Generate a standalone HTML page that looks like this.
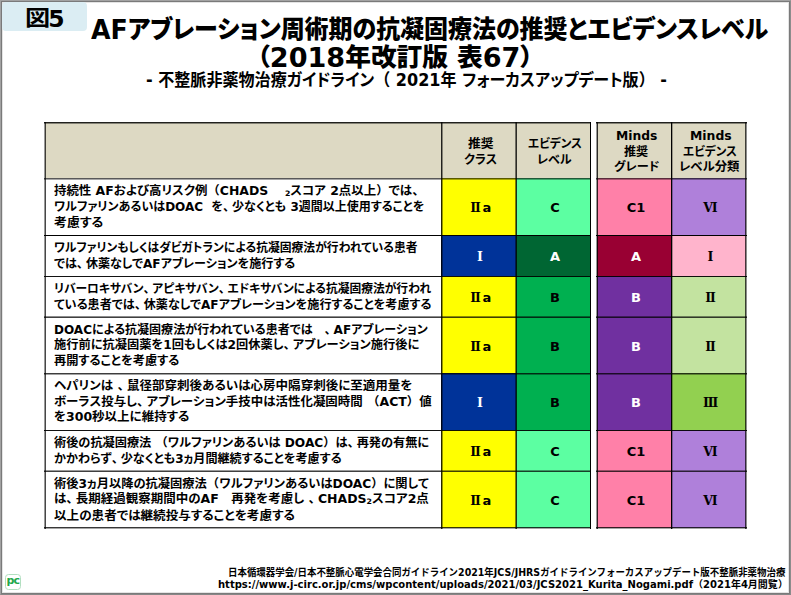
<!DOCTYPE html>
<html lang="ja">
<head>
<meta charset="utf-8">
<style>
html,body{margin:0;padding:0;background:#fff;}
body{width:791px;height:595px;overflow:hidden;position:relative;
  font-family:"DejaVu Sans","Noto Sans CJK JP",sans-serif;font-weight:bold;color:#000;}
.frame{position:absolute;left:0;top:0;width:791px;height:595px;box-sizing:border-box;border:1px solid;border-color:#a2a2a2 #8c8c8c #878787 #a2a2a2;}
.frame div{position:absolute;left:0;top:0;right:0;bottom:0;border:1px solid #7a7a7a;}
.frame div div{border-color:#e4e4e4;}
.lbl{position:absolute;left:2px;top:2px;width:85px;height:28.6px;background:#dbedf3;border-radius:4px;}
.lbl span{position:absolute;white-space:nowrap;line-height:30px;}
.lbl .z{left:22.5px;top:0.8px;font-size:21px;transform:scaleX(1.2);transform-origin:0 0;}
.lbl .n{left:46.3px;top:1.5px;font-size:23.5px;}
.t{position:absolute;white-space:nowrap;font-feature-settings:"palt" 1;font-weight:900;}
.cell{position:absolute;box-sizing:border-box;display:flex;align-items:center;justify-content:center;text-align:center;}
.hd{background:#ddd9c3;}
.hx{position:absolute;font-size:12px;line-height:16px;white-space:nowrap;z-index:2;font-feature-settings:"palt" 1;transform-origin:0 0;}
.bt{position:absolute;box-sizing:border-box;display:flex;align-items:center;font-size:12px;line-height:15.5px;padding-left:9px;padding-top:2px;white-space:nowrap;font-feature-settings:"palt" 1;}
.ln{transform-origin:0 50%;width:max-content;}
.v{font-size:13px;font-family:"DejaVu Sans",sans-serif;padding-left:3px;padding-top:2px;}
.rn{font-family:"DejaVu Serif",serif;font-size:12.5px;}
.w{color:#fff;}
.hl{position:absolute;height:1px;}
.vl{position:absolute;width:1px;}
.foot{position:absolute;font-size:10px;line-height:11px;white-space:nowrap;font-weight:bold;}
.pc{position:absolute;left:5px;top:574px;width:16px;height:16px;box-sizing:border-box;border:1px solid #b2dfc0;border-radius:3.5px;}
.pc span{position:absolute;left:0.5px;top:-2px;font-family:"DejaVu Sans",sans-serif;font-weight:bold;font-size:11px;line-height:16px;color:#1fa84a;letter-spacing:-0.8px;}
.sb{font-size:7.5px;position:relative;top:1.2px;}
.fw{font-feature-settings:normal;}
.cm{letter-spacing:-3px;}
.la{font-size:26px;position:relative;top:1px;}
</style>
</head>
<body>
<div class="frame"><div><div></div></div></div>
<div class="lbl"><span class="z">図</span><span class="n">5</span></div>

<div class="t" id="t1" style="left:90.88px;top:12px;font-size:24.7px;line-height:34px;transform:scaleX(0.9706);transform-origin:0 0;"><span class="la">AF</span>アブレーション周術期の抗凝固療法の推奨とエビデンスレベル</div>
<div class="t" id="t2" style="left:256.73px;top:39.5px;font-size:24.7px;line-height:34px;transform:scaleX(1.0410);transform-origin:0 0;">（<span class="la">2018</span>年改訂版 表<span class="la">67</span>）</div>
<div class="t" id="t3" style="font-weight:700;left:145.57px;top:69px;font-size:17px;line-height:22px;transform:scaleX(0.9445);transform-origin:0 0;">- 不整脈非薬物治療ガイドライン<span class="fw">（</span> 2021年 フォーカスアップデート版<span class="fw">）</span> -</div>

<!-- header -->
<div class="cell hd" style="left:45px;top:122px;width:396px;height:56px;"></div>
<div class="cell hd" style="left:441px;top:122px;width:75px;height:56px;"></div>
<div class="cell hd" style="left:516px;top:122px;width:74px;height:56px;"></div>
<div class="cell hd" style="left:597px;top:122px;width:75px;height:56px;"></div>
<div class="cell hd" style="left:672px;top:122px;width:74px;height:56px;"></div>
<div class="hx" id="h1" style="left:467.60px;top:136.35px;transform:scaleX(1.0667);">推奨</div>
<div class="hx" id="h2" style="left:463.69px;top:152.00px;transform:scaleX(1.0097);">クラス</div>
<div class="hx" id="h3" style="left:527.83px;top:136.25px;transform:scaleX(0.9667);">エビデンス</div>
<div class="hx" id="h4" style="left:537.01px;top:151.75px;transform:scaleX(0.9969);">レベル</div>
<div class="hx" id="h5" style="left:615.55px;top:127.75px;transform:scaleX(0.9476);"><span style="font-size:13px">Minds</span></div>
<div class="hx" id="h6" style="left:624.00px;top:144.40px;transform:scaleX(1.0083);">推奨</div>
<div class="hx" id="h7" style="left:613.99px;top:158.80px;transform:scaleX(1.0140);">グレード</div>
<div class="hx" id="h8" style="left:689.95px;top:127.75px;transform:scaleX(0.9548);"><span style="font-size:13px">Minds</span></div>
<div class="hx" id="h9" style="left:683.23px;top:144.40px;transform:scaleX(0.9667);">エビデンス</div>
<div class="hx" id="h10" style="left:678.94px;top:158.80px;transform:scaleX(1.0304);">レベル分類</div>

<!-- rows -->
<div class="bt" style="left:45px;top:178px;width:396px;height:57px;"><div><div class="ln" style="transform:scaleX(1.0360)">持続性 AFおよび高リスク例<span class="fw">（</span>CHADS　 <span class="sb">2</span>スコア 2点以上<span class="fw">）</span>では<span class="fw cm">、</span></div><div class="ln" style="transform:scaleX(1.0005)">ワルファリンあるいはDOAC&nbsp; を<span class="fw cm">、</span>少なくとも 3週間以上使用することを</div><div class="ln" style="transform:scaleX(1.0773)">考慮する</div></div></div>
<div class="bt" style="left:45px;top:235px;width:396px;height:41px;"><div><div class="ln" style="transform:scaleX(0.9802)">ワルファリンもしくはダビガトランによる抗凝固療法が行われている患者</div><div class="ln" style="transform:scaleX(1.0055)">では<span class="fw cm">、</span>休薬なしでAFアブレーションを施行する</div></div></div>
<div class="bt" style="left:45px;top:276px;width:396px;height:41px;"><div><div class="ln" style="transform:scaleX(0.9781)">リバーロキサバン<span class="fw cm">、</span>アピキサバン<span class="fw cm">、</span>エドキサバンによる抗凝固療法が行われ</div><div class="ln" style="transform:scaleX(1.0072)">ている患者では<span class="fw cm">、</span>休薬なしでAFアブレーションを施行することを考慮する</div></div></div>
<div class="bt" style="left:45px;top:317px;width:396px;height:56px;"><div><div class="ln" style="transform:scaleX(1.0013)">DOACによる抗凝固療法が行われている患者では　<span class="fw cm">、</span>AFアブレーション</div><div class="ln" style="transform:scaleX(1.0194)">施行前に抗凝固薬を1回もしくは2回休薬し<span class="fw cm">、</span>アブレーション施行後に</div><div class="ln" style="transform:scaleX(1.0163)">再開することを考慮する</div></div></div>
<div class="bt" style="left:45px;top:373px;width:396px;height:57px;"><div><div class="ln" style="transform:scaleX(1.0430)">ヘパリンは <span class="fw cm">、</span>鼠径部穿刺後あるいは心房中隔穿刺後に至適用量を</div><div class="ln" style="transform:scaleX(1.0380)">ボーラス投与し<span class="fw cm">、</span>アブレーション手技中は活性化凝固時間 <span class="fw">（</span>ACT<span class="fw">）</span>値</div><div class="ln" style="transform:scaleX(1.0422)">を300秒以上に維持する</div></div></div>
<div class="bt" style="left:45px;top:430px;width:396px;height:41px;"><div><div class="ln" style="transform:scaleX(1.0152)">術後の抗凝固療法 <span class="fw">（</span>ワルファリンあるいは DOAC<span class="fw">）</span>は<span class="fw cm">、</span>再発の有無に</div><div class="ln" style="transform:scaleX(1.0067)">かかわらず<span class="fw cm">、</span>少なくとも3ヵ月間継続することを考慮する</div></div></div>
<div class="bt" style="left:45px;top:471px;width:396px;height:57px;"><div><div class="ln" style="transform:scaleX(1.0207)">術後3ヵ月以降の抗凝固療法<span class="fw">（</span>ワルファリンあるいはDOAC<span class="fw">）</span>に関して</div><div class="ln" style="transform:scaleX(1.0413)">は<span class="fw cm">、</span>長期経過観察期間中のAF　再発を考慮し <span class="fw cm">、</span>CHADS<span class="sb">2</span>スコア2点</div><div class="ln" style="transform:scaleX(1.0482)">以上の患者では継続投与することを考慮する</div></div></div>

<!-- color cells -->
<!--CELLS-->
<div class="cell v" style="left:441px;top:178px;width:75px;height:57px;background:#ffff00;"><span class="rn" style="position:relative;left:1px">Ⅱ</span><span style="margin-left:2px;position:relative;left:0.5px">a</span></div>
<div class="cell v" style="left:516px;top:178px;width:75px;height:57px;background:#5cffa2;">C</div>
<div class="cell v" style="left:597px;top:178px;width:75px;height:57px;background:#ff80a8;">C1</div>
<div class="cell v" style="left:672px;top:178px;width:74px;height:57px;background:#af80da;"><span class="rn">Ⅵ</span></div>
<div class="cell v w" style="left:441px;top:235px;width:75px;height:41px;background:#003399;"><span class="rn">Ⅰ</span></div>
<div class="cell v w" style="left:516px;top:235px;width:75px;height:41px;background:#006633;">A</div>
<div class="cell v w" style="left:597px;top:235px;width:75px;height:41px;background:#990033;">A</div>
<div class="cell v" style="left:672px;top:235px;width:74px;height:41px;background:#ffb4cc;"><span class="rn">Ⅰ</span></div>
<div class="cell v" style="left:441px;top:276px;width:75px;height:41px;background:#ffff00;"><span class="rn" style="position:relative;left:1px">Ⅱ</span><span style="margin-left:2px;position:relative;left:0.5px">a</span></div>
<div class="cell v" style="left:516px;top:276px;width:75px;height:41px;background:#00b050;">B</div>
<div class="cell v w" style="left:597px;top:276px;width:75px;height:41px;background:#7030a0;">B</div>
<div class="cell v" style="left:672px;top:276px;width:74px;height:41px;background:#c3e3a0;"><span class="rn">Ⅱ</span></div>
<div class="cell v" style="left:441px;top:317px;width:75px;height:56px;background:#ffff00;"><span class="rn" style="position:relative;left:1px">Ⅱ</span><span style="margin-left:2px;position:relative;left:0.5px">a</span></div>
<div class="cell v" style="left:516px;top:317px;width:75px;height:56px;background:#00b050;">B</div>
<div class="cell v w" style="left:597px;top:317px;width:75px;height:56px;background:#7030a0;">B</div>
<div class="cell v" style="left:672px;top:317px;width:74px;height:56px;background:#c3e3a0;"><span class="rn">Ⅱ</span></div>
<div class="cell v w" style="left:441px;top:373px;width:75px;height:57px;background:#003399;"><span class="rn">Ⅰ</span></div>
<div class="cell v" style="left:516px;top:373px;width:75px;height:57px;background:#00b050;">B</div>
<div class="cell v w" style="left:597px;top:373px;width:75px;height:57px;background:#7030a0;">B</div>
<div class="cell v" style="left:672px;top:373px;width:74px;height:57px;background:#92d050;"><span class="rn">Ⅲ</span></div>
<div class="cell v" style="left:441px;top:430px;width:75px;height:41px;background:#ffff00;"><span class="rn" style="position:relative;left:1px">Ⅱ</span><span style="margin-left:2px;position:relative;left:0.5px">a</span></div>
<div class="cell v" style="left:516px;top:430px;width:75px;height:41px;background:#5cffa2;">C</div>
<div class="cell v" style="left:597px;top:430px;width:75px;height:41px;background:#ff80a8;">C1</div>
<div class="cell v" style="left:672px;top:430px;width:74px;height:41px;background:#af80da;"><span class="rn">Ⅵ</span></div>
<div class="cell v" style="left:441px;top:471px;width:75px;height:57px;background:#ffff00;"><span class="rn" style="position:relative;left:1px">Ⅱ</span><span style="margin-left:2px;position:relative;left:0.5px">a</span></div>
<div class="cell v" style="left:516px;top:471px;width:75px;height:57px;background:#5cffa2;">C</div>
<div class="cell v" style="left:597px;top:471px;width:75px;height:57px;background:#ff80a8;">C1</div>
<div class="cell v" style="left:672px;top:471px;width:74px;height:57px;background:#af80da;"><span class="rn">Ⅵ</span></div>
<div class="hl" style="left:44px;top:122px;width:547px;background:rgba(0,0,0,0.85);"></div>
<div class="hl" style="left:596px;top:122px;width:151px;background:rgba(0,0,0,0.85);"></div>
<div class="hl" style="left:44px;top:123px;width:547px;background:rgba(0,0,0,0.4);"></div>
<div class="hl" style="left:596px;top:123px;width:151px;background:rgba(0,0,0,0.4);"></div>
<div class="hl" style="left:44px;top:178px;width:547px;background:rgba(0,0,0,0.65);"></div>
<div class="hl" style="left:596px;top:178px;width:151px;background:rgba(0,0,0,0.65);"></div>
<div class="hl" style="left:44px;top:179px;width:547px;background:rgba(0,0,0,0.35);"></div>
<div class="hl" style="left:596px;top:179px;width:151px;background:rgba(0,0,0,0.35);"></div>
<div class="hl" style="left:44px;top:235px;width:547px;background:rgba(0,0,0,1);"></div>
<div class="hl" style="left:596px;top:235px;width:151px;background:rgba(0,0,0,1);"></div>
<div class="hl" style="left:44px;top:276px;width:547px;background:rgba(0,0,0,0.93);"></div>
<div class="hl" style="left:596px;top:276px;width:151px;background:rgba(0,0,0,0.93);"></div>
<div class="hl" style="left:44px;top:316px;width:547px;background:rgba(0,0,0,0.45);"></div>
<div class="hl" style="left:596px;top:316px;width:151px;background:rgba(0,0,0,0.45);"></div>
<div class="hl" style="left:44px;top:317px;width:547px;background:rgba(0,0,0,0.75);"></div>
<div class="hl" style="left:596px;top:317px;width:151px;background:rgba(0,0,0,0.75);"></div>
<div class="hl" style="left:44px;top:373px;width:547px;background:rgba(0,0,0,0.76);"></div>
<div class="hl" style="left:596px;top:373px;width:151px;background:rgba(0,0,0,0.76);"></div>
<div class="hl" style="left:44px;top:374px;width:547px;background:rgba(0,0,0,0.37);"></div>
<div class="hl" style="left:596px;top:374px;width:151px;background:rgba(0,0,0,0.37);"></div>
<div class="hl" style="left:44px;top:430px;width:547px;background:rgba(0,0,0,0.93);"></div>
<div class="hl" style="left:596px;top:430px;width:151px;background:rgba(0,0,0,0.93);"></div>
<div class="hl" style="left:44px;top:470px;width:547px;background:rgba(0,0,0,0.4);"></div>
<div class="hl" style="left:596px;top:470px;width:151px;background:rgba(0,0,0,0.4);"></div>
<div class="hl" style="left:44px;top:471px;width:547px;background:rgba(0,0,0,0.75);"></div>
<div class="hl" style="left:596px;top:471px;width:151px;background:rgba(0,0,0,0.75);"></div>
<div class="hl" style="left:44px;top:527px;width:547px;background:rgba(0,0,0,0.78);"></div>
<div class="hl" style="left:596px;top:527px;width:151px;background:rgba(0,0,0,0.78);"></div>
<div class="hl" style="left:44px;top:528px;width:547px;background:rgba(0,0,0,0.35);"></div>
<div class="hl" style="left:596px;top:528px;width:151px;background:rgba(0,0,0,0.35);"></div>
<div class="vl" style="left:44px;top:122px;height:407px;background:rgba(0,0,0,0.4);"></div>
<div class="vl" style="left:45px;top:122px;height:407px;background:rgba(0,0,0,0.72);"></div>
<div class="vl" style="left:441px;top:122px;height:407px;background:rgba(0,0,0,0.85);"></div>
<div class="vl" style="left:442px;top:122px;height:407px;background:rgba(0,0,0,0.4);"></div>
<div class="vl" style="left:515px;top:122px;height:407px;background:rgba(0,0,0,0.5);"></div>
<div class="vl" style="left:516px;top:122px;height:407px;background:rgba(0,0,0,0.8);"></div>
<div class="vl" style="left:590px;top:122px;height:407px;background:rgba(0,0,0,1);"></div>
<div class="vl" style="left:596px;top:122px;height:407px;background:rgba(0,0,0,0.4);"></div>
<div class="vl" style="left:597px;top:122px;height:407px;background:rgba(0,0,0,0.8);"></div>
<div class="vl" style="left:671px;top:122px;height:407px;background:rgba(0,0,0,1);"></div>
<div class="vl" style="left:672px;top:122px;height:407px;background:rgba(0,0,0,0.3);"></div>
<div class="vl" style="left:745px;top:122px;height:407px;background:rgba(0,0,0,0.72);"></div>
<div class="vl" style="left:746px;top:122px;height:407px;background:rgba(0,0,0,0.45);"></div>
<!--/CELLS-->

<div class="foot" id="f1" style="left:228.1px;top:567px;transform:scaleX(0.9442);transform-origin:0 0;">日本循環器学会/日本不整脈心電学会合同ガイドライン2021年JCS/JHRSガイドラインフォーカスアップデート版不整脈非薬物治療</div>
<div class="foot" id="f2" style="left:217.66px;top:579px;transform:scaleX(1.0005);transform-origin:0 0;">https://www.j-circ.or.jp/cms/wpcontent/uploads/2021/03/JCS2021_Kurita_Nogami.pdf（2021年4月閲覧）</div>

<div class="pc"><span>pc</span></div>
</body>
</html>
